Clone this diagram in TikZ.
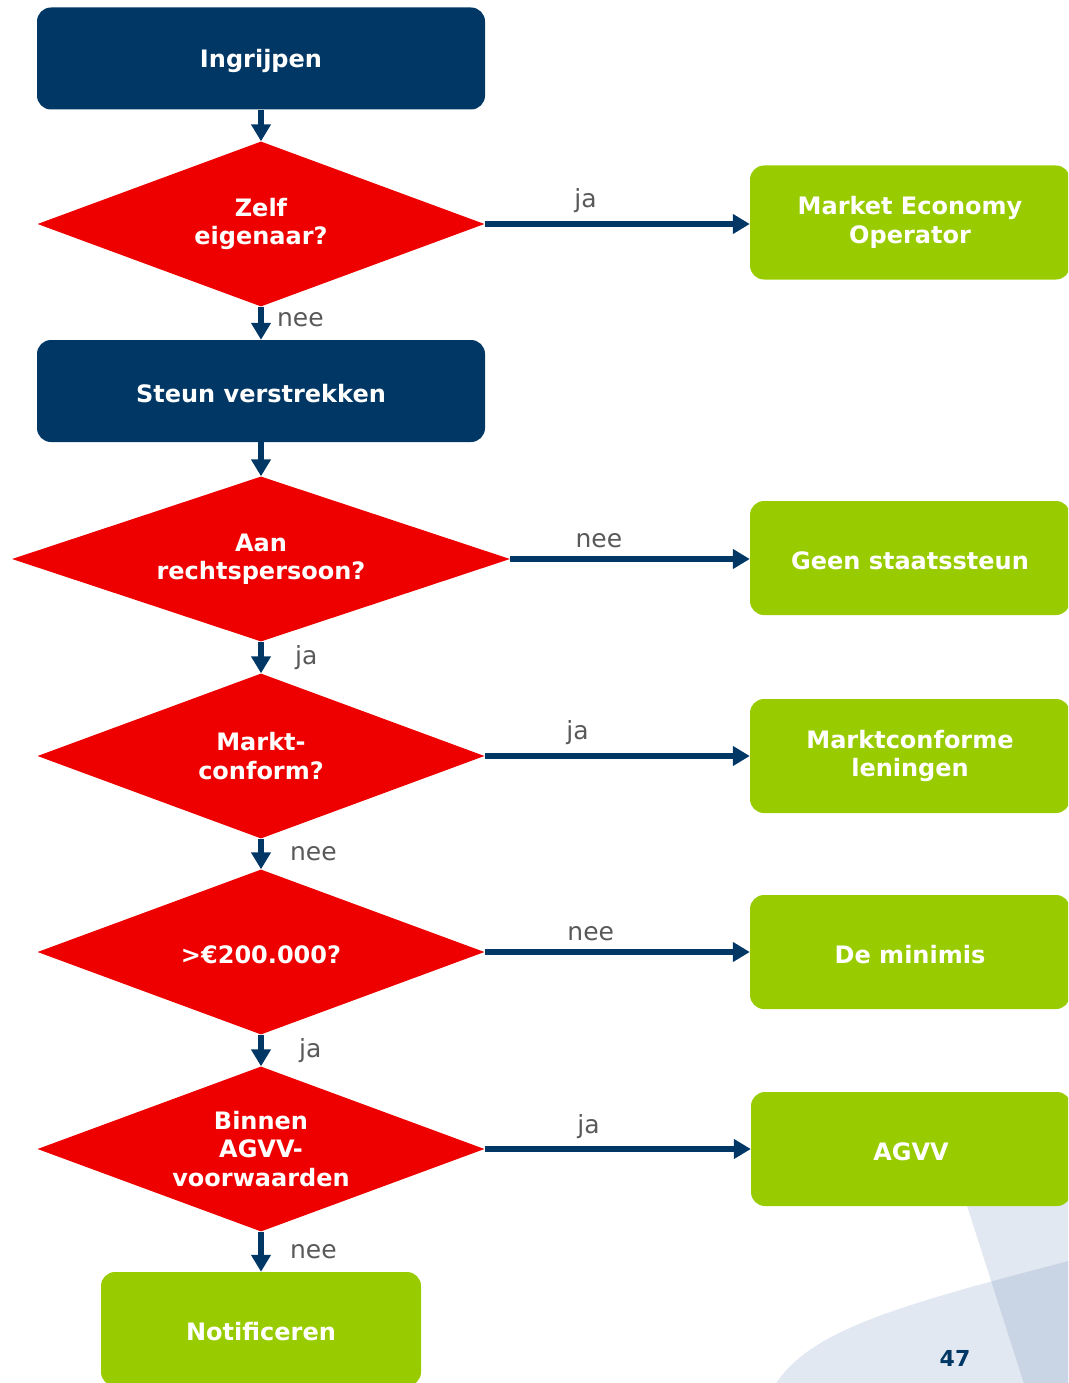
\documentclass[tikz,border=0pt]{standalone}
\usepackage{fontspec}
\setmainfont{DejaVu Sans}
\usepackage{xcolor}
\usetikzlibrary{shapes.geometric,arrows.meta}

\definecolor{navy}{HTML}{003764}
\definecolor{fmred}{HTML}{EE0000}
\definecolor{fmgreen}{HTML}{99CC00}
\definecolor{labelgray}{HTML}{595959}
\definecolor{swooshlight}{HTML}{E2E8F1}
\definecolor{swooshdark}{HTML}{C9D4E4}

\begin{document}
\begin{tikzpicture}[x=1pt,y=-1pt,
    every node/.style={font=\fontsize{24}{28.5}\selectfont\bfseries, text=white, align=center},
    vak/.style={execute at begin node={\rule{0pt}{24pt}}},
    blok/.style={vak, rectangle, rounded corners=14pt, fill=navy, minimum width=448pt, minimum height=102pt},
    vraag/.style={vak, diamond, fill=fmred, inner sep=0pt, aspect=2.7, minimum width=447pt, minimum height=165pt},
    uitkomst/.style={vak, rectangle, rounded corners=14pt, fill=fmgreen, minimum width=320pt, minimum height=114pt},
    pijl/.style={draw=navy, line width=5.5pt, -{Triangle[width=19pt,length=17pt]}},
    keuze/.style={font=\fontsize{25}{28}\selectfont, text=labelgray}]
  \useasboundingbox (0,0) rectangle (1068,1383);
  \clip (0,0) rectangle (1068,1383);

  % achtergrond rechtsonder
  \fill[swooshlight] (962,1190) -- (1080,1190) -- (1080,1390) -- (1026,1390) -- cycle;
  \fill[swooshlight] (772,1390) .. controls (805,1330) and (900,1305) .. (1080,1258) -- (1080,1390) -- cycle;
  \begin{scope}
    \clip (772,1390) .. controls (805,1330) and (900,1305) .. (1080,1258) -- (1080,1390) -- cycle;
    \fill[swooshdark] (962,1190) -- (1080,1190) -- (1080,1390) -- (1026,1390) -- cycle;
  \end{scope}

  % linker kolom
  \node[blok] (ingrijpen) at (261,58.5) {Ingrijpen};
  \node[vraag] (eigenaar) at (261,224) {Zelf\\eigenaar?};
  \node[blok] (steun) at (261,391) {Steun verstrekken};
  \node[vraag, minimum width=498pt] (rechtspersoon) at (261,559) {Aan\\rechtspersoon?};
  \node[vraag] (marktconform) at (261,756) {Markt-\\conform?};
  \node[vraag] (grens) at (261,952) {>€200.000?};
  \node[vraag] (agvvvw) at (261,1149) {Binnen\\AGVV-\\voorwaarden};
  \node[uitkomst] (notificeren) at (261,1329) {Notificeren};

  % rechter kolom
  \node[uitkomst] (meo) at (910,222.5) {Market Economy\\Operator};
  \node[uitkomst] (geen) at (910,558) {Geen staatssteun};
  \node[uitkomst] (leningen) at (910,756) {Marktconforme\\leningen};
  \node[uitkomst] (minimis) at (910,952) {De minimis};
  \node[uitkomst] (agvv) at (911,1149) {AGVV};

  % pijlen omlaag
  \draw[pijl] (ingrijpen) -- (eigenaar);
  \draw[pijl] (eigenaar) -- node[keuze, midway, right, xshift=10pt, yshift=4pt] {nee} (steun);
  \draw[pijl] (steun) -- (rechtspersoon);
  \draw[pijl] (rechtspersoon) -- node[keuze, midway, right, xshift=28pt] {ja} (marktconform);
  \draw[pijl] (marktconform) -- node[keuze, midway, right, xshift=23pt] {nee} (grens);
  \draw[pijl] (grens) -- node[keuze, midway, right, xshift=32pt] {ja} (agvvvw);
  \draw[pijl] (agvvvw) -- node[keuze, midway, right, xshift=23pt] {nee} (notificeren);

  % pijlen naar rechts
  \draw[pijl] (eigenaar.east) -- node[keuze, pos=0.38, above=5pt] {ja} (meo.west |- eigenaar.east);
  \draw[pijl] (rechtspersoon.east) -- node[keuze, pos=0.37, above=5pt] {nee} (geen.west |- rechtspersoon.east);
  \draw[pijl] (marktconform.east) -- node[keuze, pos=0.35, above=5pt] {ja} (leningen.west |- marktconform.east);
  \draw[pijl] (grens.east) -- node[keuze, pos=0.40, above=5pt] {nee} (minimis.west |- grens.east);
  \draw[pijl] (agvvvw.east) -- node[keuze, pos=0.39, above=4pt] {ja} (agvv.west |- agvvvw.east);

  % paginanummer
  \node[text=navy, font=\fontsize{22}{26}\selectfont\bfseries] (pagina) at (955,1358) {47};
\end{tikzpicture}
\end{document}
